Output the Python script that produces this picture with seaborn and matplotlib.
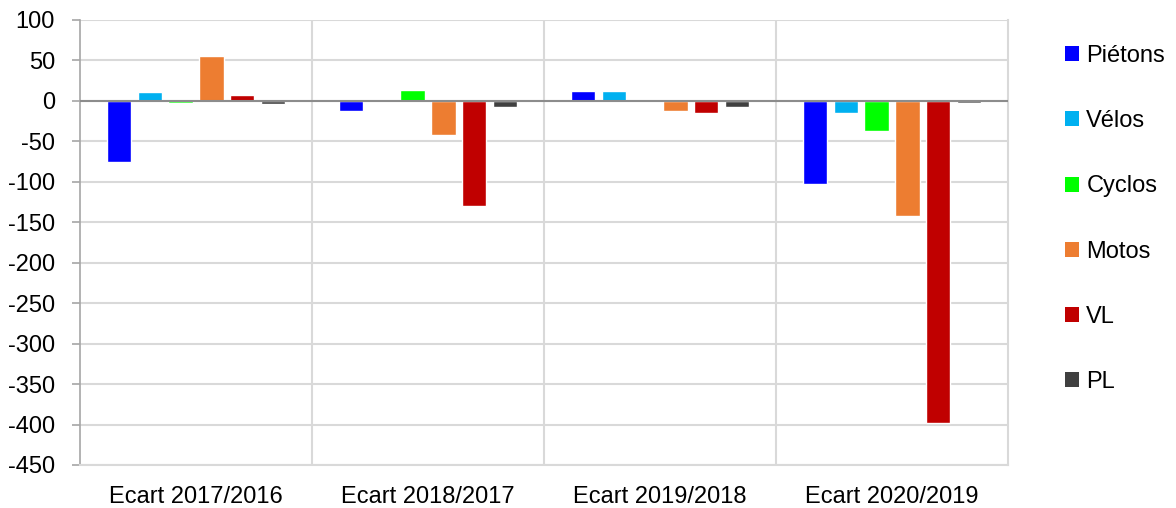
import matplotlib
matplotlib.use("Agg")
import matplotlib.pyplot as plt
import seaborn as sns
import pandas as pd
from matplotlib.patches import Patch

categories = ["Ecart 2017/2016", "Ecart 2018/2017", "Ecart 2019/2018", "Ecart 2020/2019"]
series = ["Piétons", "Vélos", "Cyclos", "Motos", "VL", "PL"]
pietons = [-75, -13, 12, -103]
velos = [11, 1, 12, -15]
cyclos = [-2, 14, 1, -37]
motos = [56, -42, -12, -142]
vl = [7, -130, -15, -398]
pl = [-4, -7, -8, -2]
colors = ["#0000FF", "#00B0F0", "#00FF00", "#ED7D31", "#C00000", "#404040"]
yticks = list(range(-450, 101, 50))

values = [pietons, velos, cyclos, motos, vl, pl]
rows = []
for s, vals in zip(series, values):
    for c, v in zip(categories, vals):
        rows.append({"cat": c, "serie": s, "val": v})
df = pd.DataFrame(rows)

sns.set_theme(style="white")
plt.rcParams['font.family'] = ['Liberation Sans', 'DejaVu Sans']
plt.rcParams['text.color'] = 'black'
plt.rcParams['xtick.color'] = '#A6A6A6'
plt.rcParams['ytick.color'] = '#A6A6A6'
plt.rcParams['xtick.labelcolor'] = 'black'
plt.rcParams['ytick.labelcolor'] = 'black'

fig = plt.figure(figsize=(11.76, 5.08), dpi=100)
ax = fig.add_axes([80/1176, 1-465/508, (1008-80)/1176, (465-20)/508])

sns.barplot(data=df, x="cat", y="val", hue="serie", hue_order=series,
            order=categories, palette=colors, ax=ax, width=0.8, gap=0.22,
            legend=False, saturation=1, errorbar=None)

ax.set_ylim(-450, 100)
ax.set_xlim(-0.5, 3.5)
ax.set_yticks(yticks)
ax.set_yticklabels([str(t) for t in yticks], fontsize=17)
ax.tick_params(axis='x', labelsize=17, length=0, pad=15)
ax.tick_params(axis='y', length=6, width=1.2, pad=12, direction='out', left=True)
ax.set_xlabel("")
ax.set_ylabel("")
ax.set_axisbelow(True)
ax.yaxis.grid(True, color="#D9D9D9", lw=1.5)
for xv in [0.5, 1.5, 2.5]:
    ax.axvline(xv, color="#D9D9D9", lw=1.5, zorder=0)
ax.axhline(0, color="#8C8C8C", lw=1.5, zorder=3)
for side in ["top", "right", "bottom"]:
    ax.spines[side].set_color("#D9D9D9")
    ax.spines[side].set_linewidth(1.5)
ax.spines["top"].set_visible(False)
ax.spines["left"].set_color("#A6A6A6")
ax.spines["left"].set_linewidth(1.2)

handles = [Patch(facecolor=c, edgecolor="none") for c in colors]
fig.legend(handles, series, loc="upper left", bbox_to_anchor=(1065/1176, 1-45/508),
           frameon=False, fontsize=17, handlelength=0.6, handleheight=0.6,
           handletextpad=0.3, labelspacing=1.83, borderaxespad=0, borderpad=0)

fig.savefig("out.png", dpi=100)
